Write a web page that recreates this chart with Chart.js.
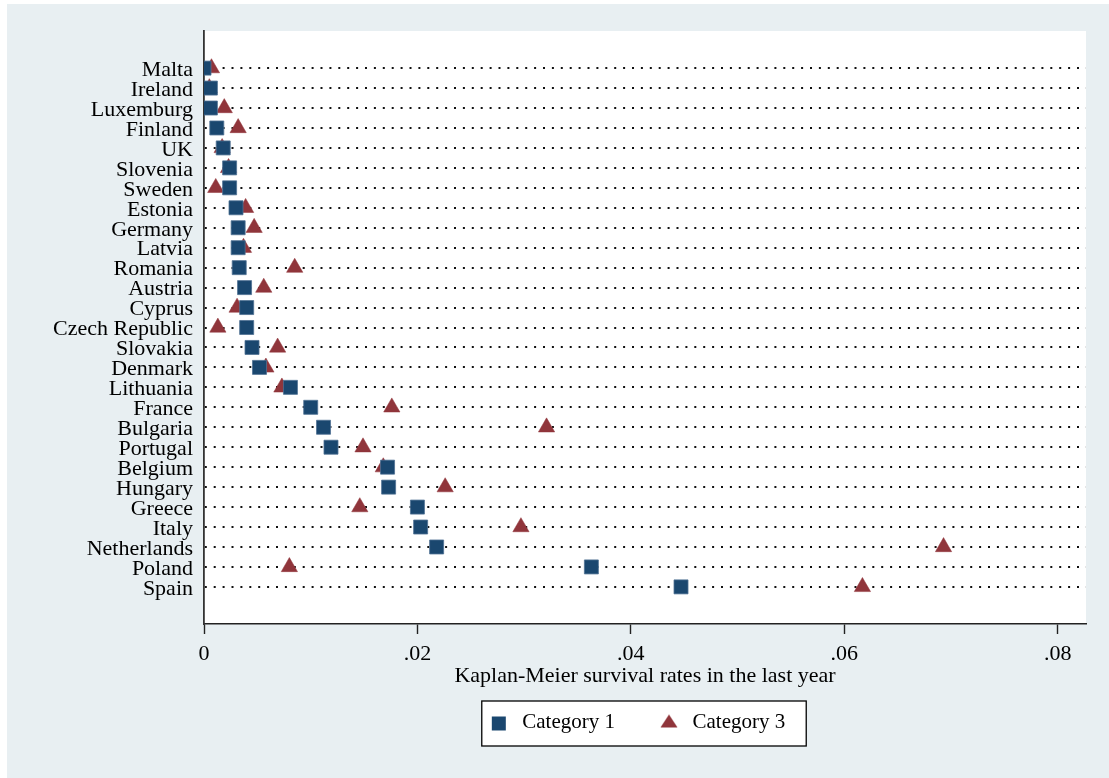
<!DOCTYPE html>
<html>
<head>
<meta charset="utf-8">
<script src="https://cdn.jsdelivr.net/npm/chart.js@4.4.1/dist/chart.umd.min.js"></script>
<style>
  html, body { margin: 0; padding: 0; background: #ffffff; }
  #wrap { width: 1109px; height: 778px; position: relative; }
</style>
</head>
<body>
<div id="wrap"><canvas id="c" width="1109" height="778"></canvas></div>
<script>
// ---------------- data ----------------
const categories = ['Malta','Ireland','Luxemburg','Finland','UK','Slovenia','Sweden','Estonia','Germany','Latvia','Romania','Austria','Cyprus','Czech Republic','Slovakia','Denmark','Lithuania','France','Bulgaria','Portugal','Belgium','Hungary','Greece','Italy','Netherlands','Poland','Spain'];
const category1Values = [0.0000, 0.0006, 0.0006, 0.0012, 0.0018, 0.0024, 0.0024, 0.0030, 0.0032, 0.0032, 0.0033, 0.0038, 0.0040, 0.0040, 0.0045, 0.0052, 0.0081, 0.0100, 0.0112, 0.0119, 0.0172, 0.0173, 0.0200, 0.0203, 0.0218, 0.0363, 0.0447];
const category3Values = [0.0007, 0.0005, 0.0019, 0.0032, 0.0017, 0.0023, 0.0011, 0.0039, 0.0047, 0.0037, 0.0085, 0.0056, 0.0031, 0.0013, 0.0069, 0.0058, 0.0073, 0.0176, 0.0321, 0.0149, 0.0168, 0.0226, 0.0146, 0.0297, 0.0693, 0.0080, 0.0617];
const seriesLabels = ['Category 1', 'Category 3'];
const xTickValues = [0, 0.02, 0.04, 0.06, 0.08];
const xTickLabels = ['0', '.02', '.04', '.06', '.08'];
const xTitle = 'Kaplan-Meier survival rates in the last year';

// ---------------- style ----------------
const NAVY = '#1a476f';
const MAROON = '#90353b';
const BG = '#e8eff2';
const FONT = "'Liberation Serif', 'Times New Roman', serif";

Chart.defaults.font.family = FONT;
Chart.defaults.font.size = 22;
Chart.defaults.color = '#000';

// legend icons (wide canvas so the icon sits close to its text)
function makeIcon(kind) {
  const cv = document.createElement('canvas');
  cv.width = 57; cv.height = 22;
  const g = cv.getContext('2d');
  const cx = 44, cy = 11;
  if (kind === 'rect') {
    g.fillStyle = NAVY;
    g.fillRect(cx - 7, cy - 6, 14, 14);
  } else {
    g.fillStyle = MAROON;
    g.beginPath();
    g.moveTo(cx, cy - 8);
    g.lineTo(cx + 8.5, cy + 5);
    g.lineTo(cx - 8.5, cy + 5);
    g.closePath();
    g.fill();
  }
  return cv;
}
const legendIcons = [makeIcon('rect'), makeIcon('triangle')];

const bgPlugin = {
  id: 'bg',
  afterLayout(chart) {
    const lg = chart.legend;
    if (lg) { lg.left -= 25; lg.right -= 25; }
  },
  beforeDraw(chart) {
    const ctx = chart.ctx, a = chart.chartArea;
    ctx.save();
    ctx.fillStyle = '#ffffff';
    ctx.fillRect(0, 0, chart.width, chart.height);
    ctx.fillStyle = BG;
    ctx.fillRect(7, 4, chart.width - 7, chart.height - 4);
    ctx.fillStyle = '#ffffff';
    ctx.fillRect(a.left, a.top, a.right - a.left, a.bottom - a.top);
    const hb = chart.legend && chart.legend.legendHitBoxes;
    if (hb && hb.length === 2) {
      const l = hb[0].left + 27;
      const r = hb[1].left + hb[1].width + 21;
      const cy = hb[0].top + 10.5;
      ctx.fillStyle = '#ffffff';
      ctx.fillRect(l, cy - 21.5, r - l, 45);
      ctx.strokeStyle = '#000';
      ctx.lineWidth = 1.3;
      ctx.strokeRect(l, cy - 21.5, r - l, 45);
    }
    ctx.restore();
  }
};

new Chart(document.getElementById('c'), {
  type: 'scatter',
  data: {
    datasets: [
      {
        label: seriesLabels[0],
        data: categories.map((c, i) => ({x: category1Values[i], y: i})),
        pointStyle: 'rect',
        pointRadius: 9.9,
        pointHoverRadius: 9.9,
        backgroundColor: NAVY,
        borderColor: '#4f7193',
        borderWidth: 0.8
      },
      {
        label: seriesLabels[1],
        data: categories.map((c, i) => ({x: category3Values[i], y: i})),
        pointStyle: 'triangle',
        pointRadius: 9.4,
        pointHoverRadius: 9.4,
        backgroundColor: MAROON,
        borderColor: MAROON,
        borderWidth: 0.5
      }
    ]
  },
  options: {
    responsive: false,
    animation: false,
    events: [],
    layout: { padding: { left: 7, right: 23, top: 31, bottom: 35 } },
    plugins: {
      tooltip: { enabled: false },
      legend: {
        position: 'bottom',
        fullSize: false,
        labels: {
          usePointStyle: true,
          pointStyleWidth: 57,
          padding: 10,
          color: '#000',
          font: { size: 21, family: FONT },
          generateLabels(chart) {
            const items = Chart.defaults.plugins.legend.labels.generateLabels(chart);
            items.forEach((it, i) => { it.pointStyle = legendIcons[i]; });
            return items;
          }
        }
      }
    },
    scales: {
      x: {
        type: 'linear',
        min: 0,
        max: 0.08265,
        afterFit(scale) { scale.height = 78; },
        afterBuildTicks(scale) { scale.ticks = xTickValues.map(v => ({value: v})); },
        ticks: {
          padding: 7,
          maxRotation: 0,
          autoSkip: false,
          color: '#000',
          callback: (v) => { const k = xTickValues.findIndex(t => Math.abs(t - v) < 1e-9); return k >= 0 ? xTickLabels[k] : ''; }
        },
        grid: { drawOnChartArea: false, drawTicks: true, tickLength: 10, tickColor: '#222', tickWidth: 1.4, color: '#222' },
        border: { display: true, color: '#222', width: 1.5 },
        title: { display: true, text: xTitle, color: '#000', font: { size: 22, family: FONT }, padding: { top: 0, bottom: 13 } }
      },
      y: {
        type: 'linear',
        reverse: true,
        min: -1.86,
        max: 27.86,
        afterFit(scale) { scale.width = 197; },
        afterBuildTicks(scale) { scale.ticks = categories.map((c, i) => ({value: i})); },
        ticks: {
          padding: 11,
          labelOffset: 2,
          autoSkip: false,
          color: '#000',
          callback: (v) => categories[v] !== undefined ? categories[v] : ''
        },
        grid: { drawOnChartArea: true, drawTicks: false, color: '#111', lineWidth: 2 },
        border: { display: true, color: '#333', width: 1.8, dash: [2, 6.9] }
      }
    }
  },
  plugins: [bgPlugin]
});
</script>
</body>
</html>
